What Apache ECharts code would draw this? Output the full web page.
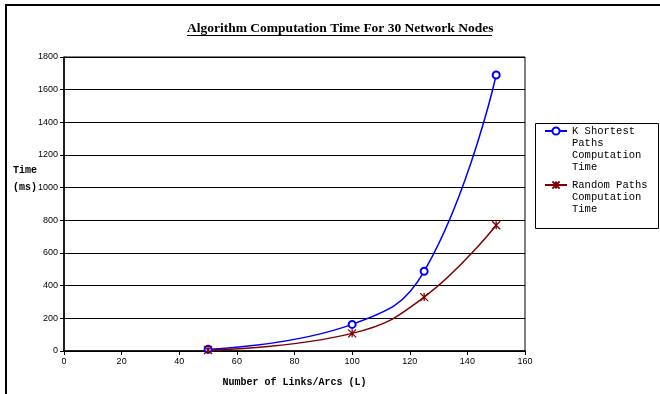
<!DOCTYPE html>
<html>
<head>
<meta charset="utf-8">
<script src="https://cdn.jsdelivr.net/npm/echarts@6/dist/echarts.min.js"></script>
<style>
html,body{margin:0;padding:0;background:#fff;}
#chart{width:660px;height:394px;}
</style>
</head>
<body>
<div id="chart"></div>
<script>
// ---- data ----
var titleText = 'Algorithm Computation Time For 30 Network Nodes';
var xAxisTitle = 'Number of Links/Arcs (L)';
var yAxisTitle = 'Time\n(ms)';
var seriesNames = ['K Shortest Paths Computation Time', 'Random Paths Computation Time'];
var legendLabels = ['K Shortest\nPaths\nComputation\nTime', 'Random Paths\nComputation\nTime'];
var links = [50, 100, 125, 150];
var kShortestTimes = [10, 163, 488, 1690];
var randomTimes = [6, 108, 330, 770];
var xMin = 0, xMax = 160, xStep = 20;
var yMin = 0, yMax = 1800, yStep = 200;

function pairs(xs, ys) { return xs.map(function (x, i) { return [x, ys[i]]; }); }

var LH = 12;
// prepend blank lines so that the first text line sits level with the legend icon
function legendText(label) {
  var n = label.split('\n').length;
  return new Array(n).join('\n') + label;
}

var chart = echarts.init(document.getElementById('chart'), null, {renderer: 'canvas'});
var option = {
  backgroundColor: '#fff',
  animation: false,
  title: {
    text: titleText,
    left: 187,
    top: 22,
    padding: 0,
    textStyle: {fontFamily: 'Liberation Serif', fontWeight: 'bold', fontSize: 13.5, color: '#000'}
  },
  grid: {left: 64, top: 57, right: 135, bottom: 43, show: true, borderColor: '#000', borderWidth: 1, backgroundColor: '#fff'},
  xAxis: {
    type: 'value', min: xMin, max: xMax, interval: xStep,
    name: xAxisTitle, nameLocation: 'middle', nameGap: 26,
    nameTextStyle: {fontFamily: 'Liberation Mono', fontWeight: 'bold', fontSize: 10, color: '#000'},
    axisLine: {show: true, lineStyle: {color: '#000', width: 1.5}},
    axisTick: {show: true, length: 4, lineStyle: {color: '#000'}},
    axisLabel: {margin: 6, fontFamily: 'Liberation Sans', fontSize: 9, color: '#000', formatter: function (v) { return String(v); }},
    splitLine: {show: false}
  },
  yAxis: {
    type: 'value', min: yMin, max: yMax, interval: yStep,
    name: yAxisTitle + '\n\n\n', nameLocation: 'middle', nameGap: 27, nameRotate: 0,
    nameMoveOverlap: false,
    nameTextStyle: {fontFamily: 'Liberation Mono', fontWeight: 'bold', fontSize: 10, color: '#000', lineHeight: 17},
    axisLine: {show: true, lineStyle: {color: '#000', width: 1.5}},
    axisTick: {show: true, length: 4, lineStyle: {color: '#000'}},
    axisLabel: {margin: 6, fontFamily: 'Liberation Sans', fontSize: 9, color: '#000', formatter: function (v) { return String(v); }},
    splitLine: {show: true, lineStyle: {color: '#000', width: 1}}
  },
  legend: {
    orient: 'vertical',
    left: 544,
    top: 89,
    padding: 0,
    itemWidth: 22,
    itemHeight: 9,
    itemGap: -18,
    selectedMode: false,
    data: seriesNames.slice(),
    formatter: function (name) { return legendText(legendLabels[seriesNames.indexOf(name)]); },
    textStyle: {fontFamily: 'Liberation Mono', fontSize: 10.5, color: '#000', lineHeight: LH}
  },
  graphic: [
    {type: 'rect', silent: true, z: -1, shape: {x: 6, y: 5, width: 720, height: 420}, style: {fill: 'none', stroke: '#000', lineWidth: 2}},
    {type: 'rect', silent: true, shape: {x: 535.5, y: 123.5, width: 123, height: 105}, style: {fill: 'none', stroke: '#000', lineWidth: 1}},
    {type: 'line', silent: true, shape: {x1: 187, y1: 35.5, x2: 492, y2: 35.5}, style: {stroke: '#000', lineWidth: 1}}
  ],
  series: [
    {
      name: seriesNames[0], type: 'line', smooth: 0.45,
      data: pairs(links, kShortestTimes),
      symbol: 'emptyCircle', symbolSize: 7,
      lineStyle: {color: '#0000FF', width: 1.5},
      itemStyle: {color: '#0000FF', borderColor: '#0000FF', borderWidth: 1.3}
    },
    {
      name: seriesNames[1], type: 'line', smooth: 0.45,
      data: pairs(links, randomTimes),
      symbol: 'path://M0,0L10,10M10,0L0,10M5,0L5,10', symbolSize: 8,
      lineStyle: {color: '#800000', width: 1.5},
      itemStyle: {color: '#800000', borderColor: '#800000', borderWidth: 1.3}
    }
  ]
};
chart.setOption(option);
</script>
</body>
</html>
